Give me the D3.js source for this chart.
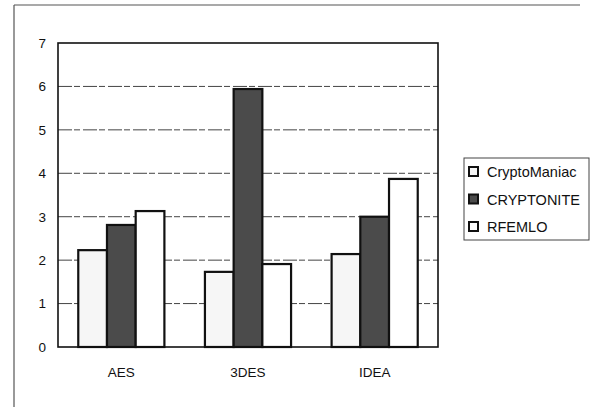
<!DOCTYPE html>
<html>
<head>
<meta charset="utf-8">
<script src="https://cdn.jsdelivr.net/npm/d3@7"></script>
<style>
  html, body { margin: 0; padding: 0; background: #fff; }
  svg { display: block; font-family: Arial, "Liberation Sans", sans-serif; }
</style>
</head>
<body>
<svg id="chart" width="595" height="407"></svg>
<script>
// Algorithms on the x axis
const categories = ["AES", "3DES", "IDEA"];
// One series per implementation
const seriesNames = ["CryptoManiac", "CRYPTONITE", "RFEMLO"];
const cryptoManiac = [2.23, 1.73, 2.14];
const cryptonite = [2.81, 5.94, 3.0];
const rfemlo = [3.13, 1.91, 3.87];
const yTicks = [0, 1, 2, 3, 4, 5, 6, 7];

const seriesValues = [cryptoManiac, cryptonite, rfemlo];
const fills = ["#f6f6f6", "#4b4b4b", "#ffffff"];

const svg = d3.select("#chart");
const plot = { left: 58, top: 43, right: 438, bottom: 347 };

// Outer frame (top and left edges fall inside the page)
svg.append("line").attr("x1", 14).attr("y1", 5).attr("x2", 580).attr("y2", 5)
  .attr("stroke", "#555").attr("stroke-width", 1.2);
svg.append("line").attr("x1", 14).attr("y1", 5).attr("x2", 14).attr("y2", 407)
  .attr("stroke", "#555").attr("stroke-width", 1.2);

const x0 = d3.scaleBand().domain(categories).range([plot.left, plot.right]).paddingInner(0.32).paddingOuter(0.16);
const x1 = d3.scaleBand().domain(seriesNames).range([0, x0.bandwidth()]);
const y = d3.scaleLinear().domain([0, 7]).range([plot.bottom, plot.top]);

// Gridlines
svg.append("g")
  .selectAll("line")
  .data(yTicks.filter(t => t > 0 && t < 7))
  .join("line")
  .attr("x1", plot.left).attr("x2", plot.right)
  .attr("y1", d => y(d)).attr("y2", d => y(d))
  .attr("stroke", "#444").attr("stroke-width", 1)
  .attr("stroke-dasharray", "14,2,6,3");

// Y axis labels
const yAxis = d3.axisLeft(y).tickValues(yTicks).tickFormat(d3.format("d")).tickSize(0).tickPadding(12);
const gy = svg.append("g").attr("transform", `translate(${plot.left},0)`).call(yAxis);
gy.select(".domain").remove();
gy.selectAll("text").attr("font-size", 13.5).attr("fill", "#111")
  .attr("font-family", "Arial, 'Liberation Sans', sans-serif");

// Bars
const groups = svg.append("g").selectAll("g")
  .data(categories)
  .join("g")
  .attr("transform", d => `translate(${x0(d)},0)`);

groups.selectAll("rect")
  .data((d, i) => seriesNames.map((s, j) => ({ s, j, v: seriesValues[j][i] })))
  .join("rect")
  .attr("x", d => x1(d.s))
  .attr("width", x1.bandwidth())
  .attr("y", d => y(d.v))
  .attr("height", d => y(0) - y(d.v))
  .attr("fill", d => fills[d.j])
  .attr("stroke", "#111")
  .attr("stroke-width", 2.2);

// Plot area border
svg.append("rect")
  .attr("x", plot.left).attr("y", plot.top)
  .attr("width", plot.right - plot.left).attr("height", plot.bottom - plot.top)
  .attr("fill", "none").attr("stroke", "#111").attr("stroke-width", 1.6);

// X axis labels
const xAxis = d3.axisBottom(x0).tickSize(0).tickPadding(20);
const gx = svg.append("g").attr("transform", `translate(0,${plot.bottom})`).call(xAxis);
gx.select(".domain").remove();
gx.selectAll("text").attr("font-size", 13.5).attr("fill", "#111")
  .attr("font-family", "Arial, 'Liberation Sans', sans-serif");

// Legend
const legend = svg.append("g").attr("transform", "translate(464,158)");
legend.append("rect").attr("width", 125).attr("height", 82)
  .attr("fill", "#fff").attr("stroke", "#444").attr("stroke-width", 1);
const items = legend.selectAll("g.item")
  .data(seriesNames)
  .join("g")
  .attr("class", "item")
  .attr("transform", (d, i) => `translate(5,${14 + i * 27.5})`);
items.append("rect")
  .attr("x", 0).attr("y", -5).attr("width", 9).attr("height", 9)
  .attr("fill", (d, i) => fills[i]).attr("stroke", "#111").attr("stroke-width", 2);
items.append("text")
  .attr("x", 18).attr("y", 0).attr("dy", "0.36em")
  .attr("font-size", 14.5).attr("fill", "#111")
  .text(d => d);
</script>
</body>
</html>
